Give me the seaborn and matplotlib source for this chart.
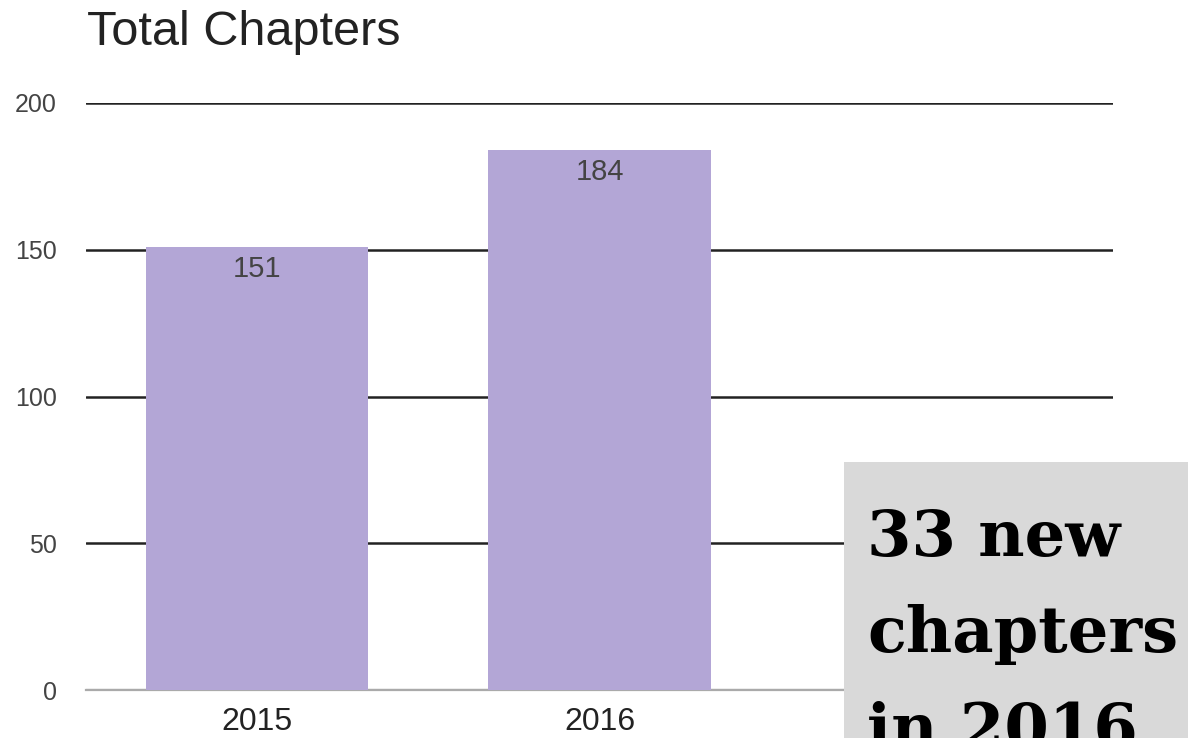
import matplotlib
matplotlib.use("Agg")
import matplotlib.pyplot as plt
import seaborn as sns
import pandas as pd
from matplotlib.patches import Rectangle

# ---- data ----
years = ["2015", "2016"]
chapters = [151, 184]
y_ticks = [0, 50, 100, 150, 200]
title = "Total Chapters"
note = "33 new\nchapters\nin 2016"

sns.set_theme(style="white")
plt.rcParams['font.family'] = ['Liberation Sans', 'DejaVu Sans']

df = pd.DataFrame({"year": years, "chapters": chapters})

fig = plt.figure(figsize=(11.88, 7.38), dpi=100)
ax = fig.add_axes([86/1188, 1 - 690/738, (1113 - 86)/1188, (690 - 103)/738])

sns.barplot(data=df, x="year", y="chapters", color="#b3a6d6", saturation=1,
            width=0.65, ax=ax, zorder=3, linewidth=0, edgecolor="none")

ax.set_xlim(-0.5, 2.5)
ax.set_ylim(0, 200)
ax.set_yticks(y_ticks)
ax.set_yticklabels([str(t) for t in y_ticks])
ax.set_xlabel("")
ax.set_ylabel("")

ax.yaxis.grid(True, color="#222222", linewidth=1.8, zorder=0)
ax.set_axisbelow(True)
gl = ax.get_ygridlines()
gl[0].set_color("#aaaaaa")
gl[0].set_linewidth(1.6)

for s in ["left", "right", "top"]:
    ax.spines[s].set_visible(False)
ax.spines["bottom"].set_color("#aaaaaa")
ax.spines["bottom"].set_linewidth(1.6)

ax.tick_params(axis="y", length=0, pad=21, labelsize=18, labelcolor="#444444")
ax.tick_params(axis="x", length=0, pad=12, labelsize=23, labelcolor="#222222")

for i, v in enumerate(chapters):
    ax.annotate(str(v), xy=(i, v), xytext=(0, -6), textcoords="offset points",
                ha="center", va="top", fontsize=21, color="#444444", zorder=4)

fig.text(87/1188, 1 - 45/738, title, fontsize=35, color="#222222",
         ha="left", va="baseline")

fig.patches.append(Rectangle((844/1188, 0), 1 - 844/1188, 1 - 462/738,
                             transform=fig.transFigure, facecolor="#d9d9d9",
                             edgecolor="none", zorder=10))
fig.text(867/1188, 1 - 749/738, note, fontsize=46, fontweight="bold",
         family=["DejaVu Serif"], color="black", ha="left", va="baseline",
         linespacing=1.74, zorder=11)

fig.savefig("out.png", dpi=100)
